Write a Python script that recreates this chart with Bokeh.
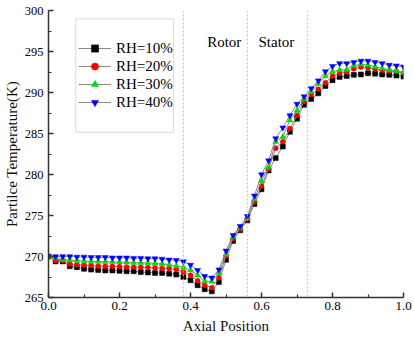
from bokeh.plotting import figure
from bokeh.embed import file_html
from bokeh.resources import INLINE
from bokeh.models import Span, Label, Legend, BoxAnnotation, Range1d, FixedTicker
import numpy as np

axial = [round(0.02 * i, 2) for i in range(51)]

rh10 = [270.0, 269.4, 269.4, 268.8, 268.7, 268.5, 268.4, 268.35, 268.3, 268.3,
        268.25, 268.2, 268.2, 268.1, 268.05, 268.0, 268.0, 267.9, 267.8, 267.5,
        267.1, 266.5, 266.0, 265.75, 266.9, 269.6, 271.9, 273.2, 274.4, 276.4,
        278.2, 280.5, 282.0, 283.4, 285.2, 286.8, 288.5, 289.2, 289.9, 290.8,
        291.5, 291.9, 292.0, 292.15, 292.2, 292.35, 292.3, 292.2, 292.15, 292.06,
        291.94]
rh20 = [270.0, 269.5, 269.5, 269.1, 269.0, 268.95, 268.9, 268.85, 268.8, 268.8,
        268.77, 268.72, 268.7, 268.69, 268.65, 268.61, 268.57, 268.53, 268.41, 268.12,
        267.72, 267.03, 266.5, 266.2, 267.4, 270.07, 272.2, 273.35, 274.6, 276.7,
        278.6, 280.7, 283.2, 284.0, 285.6, 287.2, 288.9, 289.8, 290.4, 291.2,
        292.0, 292.35, 292.5, 292.9, 293.1, 293.03, 292.87, 292.7, 292.63, 292.55,
        292.35]
rh30 = [270.0, 269.8, 269.6, 269.55, 269.5, 269.45, 269.4, 269.4, 269.35, 269.35,
        269.3, 269.3, 269.25, 269.25, 269.2, 269.15, 269.1, 269.0, 268.85, 268.65,
        268.33, 267.7, 267.0, 266.95, 268.0, 270.27, 272.4, 273.5, 274.7, 277.0,
        279.2, 280.9, 284.0, 284.6, 286.6, 287.8, 289.2, 290.1, 291.05, 292.0,
        292.55, 292.75, 292.8, 293.3, 293.44, 293.36, 293.15, 292.95, 292.75, 292.63,
        292.46]
rh40 = [270.0, 270.0, 270.0, 270.0, 269.95, 269.95, 269.9, 269.9, 269.9, 269.85,
        269.85, 269.85, 269.8, 269.8, 269.75, 269.75, 269.7, 269.6, 269.55, 269.38,
        268.97, 268.33, 267.6, 267.4, 268.4, 270.7, 272.6, 273.7, 274.9, 277.4,
        280.0, 281.7, 284.4, 285.7, 287.2, 288.6, 289.5, 290.5, 291.45, 292.55,
        293.2, 293.55, 293.55, 293.7, 293.85, 293.85, 293.7, 293.55, 293.36, 293.27,
        293.15]

labels = ["RH=10%", "RH=20%", "RH=30%", "RH=40%"]
series = [rh10, rh20, rh30, rh40]
markers = ["square", "circle", "triangle", "inverted_triangle"]
colors = ["#000000", "#ff0000", "#00dd00", "#0000ff"]
sizes = [5, 5, 6, 6]

boundaries = [0.38, 0.56, 0.73]
region_names = ["Rotor", "Stator"]
region_x = [0.495, 0.642]

FONT = "Liberation Serif"

p = figure(width=414, height=339, output_backend="svg", toolbar_location=None,
           x_range=Range1d(0, 1.0), y_range=Range1d(265, 300),
           min_border_left=47, min_border_right=11, min_border_top=10, min_border_bottom=42)
p.outline_line_color = None
p.xgrid.visible = False
p.ygrid.visible = False
p.background_fill_color = "white"

for b in boundaries:
    p.add_layout(Span(location=b, dimension="height", line_color="#c0c0c0",
                      line_dash="2 2", line_width=1))

for lab, ys, m, c, s in zip(labels, series, markers, colors, sizes):
    p.line(axial, ys, line_color="#8a8a8a", line_width=1, legend_label=lab)
    p.scatter(axial, ys, marker=m, size=s, fill_color=c, line_color=c, line_width=0.5,
              legend_label=lab)

for name, xx in zip(region_names, region_x):
    p.add_layout(Label(x=xx, y=296.1, text=name, text_align="center", text_baseline="middle",
                       text_font=FONT, text_font_size="15px", text_color="#000000"))

p.add_layout(BoxAnnotation(left=0.0767, right=0.352, top=298.99, bottom=285.14,
                           fill_alpha=0, line_color="#8c8c8c", line_width=1))

for ax in (p.xaxis[0], p.yaxis[0]):
    ax.axis_line_color = "#333333"
    ax.axis_line_width = 1.5
    ax.major_tick_line_color = "#333333"
    ax.minor_tick_line_color = "#333333"
    ax.major_tick_line_width = 1.5
    ax.minor_tick_line_width = 1.2
    ax.major_tick_in = 5
    ax.major_tick_out = 0
    ax.minor_tick_in = 3
    ax.minor_tick_out = 0
    ax.major_label_text_font = FONT
    ax.major_label_text_color = "#000000"
    ax.axis_label_text_font = FONT
    ax.axis_label_text_font_size = "15px"
    ax.axis_label_text_font_style = "normal"
    ax.axis_label_text_color = "#111111"

p.xaxis.major_label_text_font_size = "13px"
p.yaxis.major_label_text_font_size = "12.5px"
p.xaxis.ticker = FixedTicker(ticks=[0.0, 0.2, 0.4, 0.6, 0.8, 1.0],
                             minor_ticks=[0.1, 0.3, 0.5, 0.7, 0.9])
p.yaxis.ticker = FixedTicker(ticks=[265, 270, 275, 280, 285, 290, 295, 300],
                             minor_ticks=[267.5, 272.5, 277.5, 282.5, 287.5, 292.5, 297.5])
p.xaxis.major_label_overrides = {0: "0.0", 1: "1.0"}
p.xaxis.axis_label = "Axial Position"
p.yaxis.axis_label = "Partilce Temperature(K)"
p.xaxis.major_label_standoff = 4
p.yaxis.major_label_standoff = 5
p.xaxis.axis_label_standoff = 5
p.yaxis.axis_label_standoff = 2

leg = p.legend[0]
leg.location = (30, 186)
leg.padding = 0
leg.margin = 0
leg.spacing = 0
leg.border_line_color = None
leg.background_fill_alpha = 0
leg.glyph_width = 33
leg.glyph_height = 18
leg.label_height = 18
leg.label_standoff = 5
leg.label_text_font = FONT
leg.label_text_font_size = "15px"
leg.label_text_color = "#000000"

open("out.html", "w").write(file_html(p, INLINE))
